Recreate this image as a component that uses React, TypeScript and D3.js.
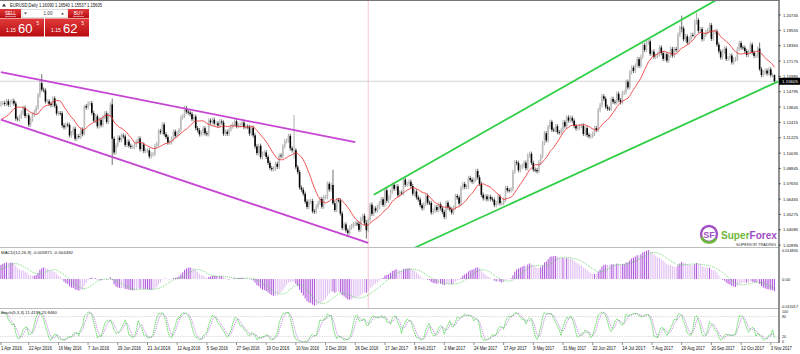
import * as d3 from "d3";
import React, { useEffect } from "react";

const FIRST_DAY = "2016-04-01";
const LAST_DAY = "2017-11-07";

// Feb 15 - Mar 31 2016, not drawn, only feeds the indicators
const warmupCloses = [
  1.1153, 1.1145, 1.1126, 1.1105, 1.1130, 1.1026, 1.1017, 1.1015, 1.1020, 1.0933, 1.0935,
  1.0872, 1.0866, 1.0954, 1.1003, 1.1012, 1.1008, 1.0999, 1.1177, 1.1152, 1.1107, 1.1107,
  1.1236, 1.1313, 1.1268, 1.1240, 1.1219, 1.1184, 1.1179, 1.1165, 1.1196, 1.1297, 1.1332, 1.1380,
];

// daily closes, one per weekday
const closes2016 = [
  // apr
  1.1390, 1.1393, 1.1385, 1.1406, 1.1378, 1.1398, 1.1409, 1.1388, 1.1271, 1.1266, 1.1285,
  1.1315, 1.1355, 1.1291, 1.1296, 1.1223, 1.1264, 1.1301, 1.1323, 1.1356, 1.1453,
  // may
  1.1546, 1.1496, 1.1490, 1.1404, 1.1405, 1.1385, 1.1376, 1.1428, 1.1370, 1.1311, 1.1313,
  1.1312, 1.1218, 1.1203, 1.1225, 1.1222, 1.1140, 1.1158, 1.1192, 1.1115, 1.1136, 1.1130,
  // jun
  1.1186, 1.1150, 1.1368, 1.1358, 1.1387, 1.1391, 1.1315, 1.1254, 1.1289, 1.1211, 1.1261,
  1.1220, 1.1282, 1.1312, 1.1245, 1.1296, 1.1381, 1.1115, 1.1008, 1.1065, 1.1123, 1.1105,
  // jul
  1.1140, 1.1132, 1.1067, 1.1093, 1.1060, 1.1052, 1.1052, 1.1064, 1.1092, 1.1117, 1.1034,
  1.1070, 1.1019, 1.1024, 1.1024, 1.0977, 1.0993, 1.0996, 1.1059, 1.1074, 1.1174,
  // aug
  1.1165, 1.1225, 1.1150, 1.1128, 1.1085, 1.1087, 1.1115, 1.1170, 1.1137, 1.1159, 1.1183,
  1.1280, 1.1290, 1.1353, 1.1325, 1.1317, 1.1306, 1.1266, 1.1286, 1.1197, 1.1181, 1.1149, 1.1159,
  // sep
  1.1196, 1.1157, 1.1150, 1.1256, 1.1241, 1.1262, 1.1233, 1.1235, 1.1218, 1.1249, 1.1241,
  1.1153, 1.1169, 1.1153, 1.1187, 1.1209, 1.1226, 1.1250, 1.1213, 1.1219, 1.1223, 1.1240,
  // oct
  1.1205, 1.1209, 1.1205, 1.1154, 1.1200, 1.1141, 1.1055, 1.1003, 1.1060, 1.0972, 1.0998,
  1.1009, 1.0974, 1.0928, 1.0888, 1.0879, 1.0883, 1.0920, 1.0897, 1.0985, 1.0979,
  // nov
  1.1056, 1.1096, 1.1100, 1.1137, 1.1040, 1.1025, 1.1026, 1.0894, 1.0856, 1.0736, 1.0720,
  1.0688, 1.0627, 1.0586, 1.0627, 1.0632, 1.0552, 1.0549, 1.0589, 1.0617, 1.0647, 1.0588,
  // dec
  1.0662, 1.0662, 1.0765, 1.0721, 1.0756, 1.0614, 1.0562, 1.0638, 1.0636, 1.0535, 1.0422,
  1.0450, 1.0404, 1.0384, 1.0427, 1.0437, 1.0452, 1.0457, 1.0455, 1.0408, 1.0493, 1.0517,
];

const closes2017 = [
  // jan
  1.0460, 1.0405, 1.0484, 1.0603, 1.0532, 1.0575, 1.0558, 1.0584, 1.0614, 1.0645, 1.0602,
  1.0715, 1.0634, 1.0660, 1.0704, 1.0757, 1.0726, 1.0745, 1.0677, 1.0697, 1.0693, 1.0798,
  // feb
  1.0758, 1.0763, 1.0781, 1.0748, 1.0688, 1.0706, 1.0660, 1.0643, 1.0600, 1.0575, 1.0608,
  1.0672, 1.0619, 1.0617, 1.0542, 1.0556, 1.0585, 1.0562, 1.0605, 1.0575,
  // mar
  1.0546, 1.0508, 1.0619, 1.0581, 1.0566, 1.0542, 1.0580, 1.0671, 1.0659, 1.0612, 1.0735,
  1.0764, 1.0740, 1.0741, 1.0810, 1.0796, 1.0782, 1.0798, 1.0865, 1.0815, 1.0765, 1.0680, 1.0652,
  // apr
  1.0668, 1.0645, 1.0664, 1.0647, 1.0641, 1.0600, 1.0615, 1.0666, 1.0615, 1.0615, 1.0643,
  1.0732, 1.0715, 1.0714, 1.0723, 1.0859, 1.0933, 1.0926, 1.0871, 1.0895,
  // may
  1.0905, 1.0929, 1.0886, 1.0984, 1.0998, 1.0928, 1.0875, 1.0872, 1.0862, 1.0932, 1.0980,
  1.1080, 1.1157, 1.1102, 1.1206, 1.1245, 1.1184, 1.1183, 1.1211, 1.1165, 1.1163, 1.1183, 1.1244,
  // jun
  1.1211, 1.1280, 1.1256, 1.1277, 1.1255, 1.1213, 1.1195, 1.1200, 1.1213, 1.1216, 1.1152,
  1.1197, 1.1144, 1.1133, 1.1136, 1.1153, 1.1197, 1.1183, 1.1337, 1.1375, 1.1444, 1.1425,
  // jul
  1.1362, 1.1348, 1.1347, 1.1424, 1.1401, 1.1397, 1.1464, 1.1414, 1.1398, 1.1470, 1.1475,
  1.1557, 1.1513, 1.1631, 1.1666, 1.1642, 1.1682, 1.1732, 1.1680, 1.1751, 1.1842,
  // aug
  1.1803, 1.1860, 1.1870, 1.1774, 1.1791, 1.1750, 1.1757, 1.1769, 1.1823, 1.1779, 1.1734,
  1.1770, 1.1721, 1.1761, 1.1812, 1.1760, 1.1810, 1.1802, 1.1923, 1.1977, 1.1971, 1.1886, 1.1909,
  // sep
  1.1860, 1.1888, 1.1920, 1.1918, 1.2023, 1.2036, 1.1952, 1.1966, 1.1887, 1.1921, 1.1942,
  1.1956, 1.1996, 1.1890, 1.1941, 1.1948, 1.1845, 1.1792, 1.1746, 1.1790, 1.1814,
  // oct
  1.1734, 1.1740, 1.1760, 1.1707, 1.1730, 1.1733, 1.1811, 1.1857, 1.1823, 1.1821, 1.1795,
  1.1765, 1.1786, 1.1845, 1.1784, 1.1757, 1.1760, 1.1815, 1.1654, 1.1609, 1.1628, 1.1643,
  // nov
  1.1621, 1.1653, 1.1608, 1.1609, 1.15605,
];

// bars with wicks far outside the body
const spikes = [
  { date: "2016-05-03", high: 1.1616, low: 1.1480 },
  { date: "2016-06-03", high: 1.1375, low: 1.1140 },
  { date: "2016-06-24", high: 1.1427, low: 1.0912 },
  { date: "2016-11-09", high: 1.1299, low: 1.0960 },
  { date: "2016-12-08", high: 1.0874, low: 1.0602 },
  { date: "2016-12-20", high: 1.0420, low: 1.0352 },
  { date: "2017-01-03", high: 1.0485, low: 1.0340 },
  { date: "2017-08-29", high: 1.2070, low: 1.1940 },
  { date: "2017-09-08", high: 1.2092, low: 1.2000 },
  { date: "2017-10-26", high: 1.1861, low: 1.1640 },
  { date: "2017-11-07", high: 1.1614, low: 1.15537 },
];
const WICK = 0.0017;

const priceTicks = [
  1.20745, 1.19555, 1.18365, 1.17175, 1.15985, 1.14795, 1.13605, 1.12415,
  1.11225, 1.10035, 1.08845, 1.07655, 1.06465, 1.05275, 1.04085, 1.02895,
];
const BID = 1.15605;

const dateTicks = [
  "2016-04-01", "2016-04-22", "2016-05-16", "2016-06-07", "2016-06-29", "2016-07-21",
  "2016-08-12", "2016-09-05", "2016-09-27", "2016-10-19", "2016-11-10", "2016-12-02",
  "2016-12-26", "2017-01-17", "2017-02-08", "2017-03-02", "2017-03-24", "2017-04-17",
  "2017-05-09", "2017-05-31", "2017-06-22", "2017-07-14", "2017-08-07", "2017-08-29",
  "2017-09-20", "2017-10-12", "2017-11-03",
];

// hand drawn trend lines: two anchors (date, price), ray = extend to the right
const trendLines = [
  { color: "#c545d4", from: ["2016-04-01", 1.1631], to: ["2016-12-26", 1.1088], ray: false },
  { color: "#c545d4", from: ["2016-04-01", 1.1263], to: ["2017-01-04", 1.0307], ray: false },
  { color: "#2fcf45", from: ["2017-01-09", 1.0680], to: ["2017-09-22", 1.2186], ray: true },
  { color: "#2fcf45", from: ["2017-02-08", 1.0269], to: ["2017-11-07", 1.1546], ray: true },
];
const VLINE_DAY = "2017-01-04";

const MA_PERIOD = 13;
const macdTicks = [
  { v: 0.014855, label: "0.014855" },
  { v: 0, label: "0.00" },
  { v: -0.013417, label: "-0.013417" },
];
const stochLevels = [80, 20];
const stochTicks = [100, 80, 20, 0];

const W = 800;
const PLOT_R = 778.5;
const FONT = "'Liberation Sans', Arial, sans-serif";

function ema(arr: number[], n: number) {
  const k = 2 / (n + 1);
  let e = arr[0];
  return arr.map((v, i) => (i === 0 ? e : (e = v * k + e * (1 - k))));
}

// squeeze tiny terminal text into the width it has in the screenshot
function Tiny({ x, y, w, size = 4.4, fill = "#111", children, anchor }: any) {
  return (
    <text x={x} y={y} fontSize={size} fill={fill} textLength={w} lengthAdjust="spacingAndGlyphs"
      textAnchor={anchor}>
      {children}
    </text>
  );
}

export default function App() {
  useEffect(() => {
    document.body.style.margin = "0";
  }, []);

  const parse = d3.utcParse("%Y-%m-%d");
  const key = d3.utcFormat("%Y-%m-%d");
  const label = d3.utcFormat("%-d %b %Y");
  const days = d3.utcDay
    .range(parse(FIRST_DAY)!, d3.utcDay.offset(parse(LAST_DAY)!, 1))
    .filter(d => d.getUTCDay() % 6 !== 0);
  const keys = days.map(d => key(d));
  const idx = new Map(keys.map((k, i) => [k, i]));

  const closes = closes2016.concat(closes2017);
  const all = warmupCloses.concat(closes);
  const off = warmupCloses.length;
  const spikeMap = new Map(spikes.map(s => [s.date, s]));

  const allBars = all.map((c, j) => {
    const o = j === 0 ? c : all[j - 1];
    const s = j >= off ? spikeMap.get(keys[j - off]) : undefined;
    return {
      o, c,
      h: s ? s.high : Math.max(o, c) + WICK,
      l: s ? s.low : Math.min(o, c) - WICK,
    };
  });
  const bars = allBars.slice(off).map((b, i) => ({ ...b, i }));

  // moving average
  const ma = all.map((_, j) => (j < MA_PERIOD - 1 ? NaN : d3.mean(all.slice(j - MA_PERIOD + 1, j + 1))!)).slice(off);

  // MACD(12,26,9)
  const e12 = ema(all, 12);
  const e26 = ema(all, 26);
  const macdAll = all.map((_, j) => e12[j] - e26[j]);
  const sigAll = macdAll.map((_, j) => d3.mean(macdAll.slice(Math.max(0, j - 8), j + 1))!);
  const macd = macdAll.slice(off);
  const macdPrev = macdAll.slice(off - 1);
  const signal = sigAll.slice(off);

  // Stochastic(5,3,3)
  const hh = allBars.map((_, j) => d3.max(allBars.slice(Math.max(0, j - 4), j + 1), b => b.h)!);
  const ll = allBars.map((_, j) => d3.min(allBars.slice(Math.max(0, j - 4), j + 1), b => b.l)!);
  const kAll = allBars.map((_, j) => {
    let num = 0, den = 0;
    for (let q = Math.max(0, j - 2); q <= j; q++) {
      num += allBars[q].c - ll[q];
      den += hh[q] - ll[q];
    }
    return den ? (100 * num) / den : 50;
  });
  const dAll = kAll.map((_, j) => d3.mean(kAll.slice(Math.max(0, j - 2), j + 1))!);
  const stK = kAll.slice(off);
  const stD = dAll.slice(off);

  const n = bars.length;
  const x = d3.scaleLinear().domain([-0.5, n - 0.5]).range([0, 775.4]);
  const y = d3.scaleLinear().domain([1.0275, 1.2191]).range([247, 0]);
  const ym = d3.scaleLinear().domain([-0.0134, 0.01486]).range([307, 248]);
  const ys = d3.scaleLinear().domain([0, 100]).range([343, 310]);

  const maLine = d3.line<number>().defined(v => !isNaN(v)).x((_, i) => x(i)).y(v => y(v));
  const sigLine = d3.line<number>().x((_, i) => x(i)).y(v => ym(v));
  const stLine = d3.line<number>().x((_, i) => x(i)).y(v => ys(v));

  const tl = trendLines.map(t => {
    const i0 = idx.get(t.from[0] as string)!;
    const i1 = idx.get(t.to[0] as string)!;
    const p0 = t.from[1] as number;
    const p1 = t.to[1] as number;
    let x1 = x(i1), y1 = y(p1);
    if (t.ray) {
      const slope = (y1 - y(p0)) / (x1 - x(i0));
      y1 = y1 + slope * (PLOT_R - x1);
      x1 = PLOT_R;
    }
    return { color: t.color, x0: x(i0), y0: y(p0), x1, y1 };
  });

  const vx = x(idx.get(VLINE_DAY)!);

  return (
    <svg width={W} height={354} style={{ position: "fixed", left: 0, top: 0, background: "#fff" }}
      fontFamily={FONT}>
      <defs>
        <clipPath id="main"><rect x={0} y={1} width={PLOT_R} height={246} /></clipPath>
        <clipPath id="macd"><rect x={0} y={248} width={PLOT_R} height={60} /></clipPath>
        <clipPath id="stoch"><rect x={0} y={309} width={PLOT_R} height={33} /></clipPath>
        <linearGradient id="btn" x1="0" y1="0" x2="0" y2="1">
          <stop offset="0" stopColor="#e23a3a" />
          <stop offset="1" stopColor="#b80d12" />
        </linearGradient>
      </defs>

      {/* frame */}
      <line x1={0} x2={PLOT_R} y1={0.5} y2={0.5} stroke="#777" />
      <line x1={0} x2={PLOT_R} y1={247.5} y2={247.5} stroke="#bdbdbd" />
      <line x1={0} x2={PLOT_R} y1={308.5} y2={308.5} stroke="#bdbdbd" />
      <line x1={0} x2={PLOT_R} y1={342.5} y2={342.5} stroke="#bdbdbd" />
      <line x1={PLOT_R + 0.5} x2={PLOT_R + 0.5} y1={0} y2={343} stroke="#222" />

      {/* vertical marker */}
      <line x1={vx} x2={vx} y1={1} y2={308} stroke="#f2b8bd" strokeWidth={0.8} />

      {/* main pane */}
      <g clipPath="url(#main)">
        <line x1={0} x2={PLOT_R} y1={y(BID)} y2={y(BID)} stroke="#c8c8c8" strokeWidth={0.8} />
        {bars.map(b => {
          const up = b.c >= b.o;
          const top = y(Math.max(b.o, b.c));
          const bot = y(Math.min(b.o, b.c));
          return (
            <g key={b.i}>
              <line x1={x(b.i)} x2={x(b.i)} y1={y(b.h)} y2={y(b.l)} stroke={up ? "#8c8c8c" : "#333"} strokeWidth={0.7} />
              <rect x={x(b.i) - 0.8} y={top} width={1.6} height={Math.max(0.8, bot - top)}
                fill={up ? "#bdbdbd" : "#000"} />
            </g>
          );
        })}
        <path d={maLine(ma) ?? ""} fill="none" stroke="#f02a2a" strokeWidth={0.8} />
        {tl.map((t, i) => (
          <line key={i} x1={t.x0} y1={t.y0} x2={t.x1} y2={t.y1} stroke={t.color} strokeWidth={1.8} />
        ))}
      </g>

      {/* header + one click panel */}
      <path d="M2,6.5 L4,3.5 L6,6.5 Z" fill="#333" />
      <Tiny x={10} y={6.8} w={92} size={4.6}>EURUSD,Daily  1.16090 1.16540 1.15537 1.15605</Tiny>
      <rect x={0} y={9} width={21} height={9} fill="url(#btn)" />
      <text x={10.5} y={15.3} fontSize={4.6} fill="#fff" textAnchor="middle">SELL</text>
      <line x1={5} x2={16} y1={16.5} y2={16.5} stroke="#fff" strokeWidth={0.5} />
      <rect x={22} y={9.5} width={45} height={8} fill="#fff" stroke="#c8c8c8" strokeWidth={0.6} />
      <path d="M24,12.5 L27,12.5 L25.5,14.5 Z" fill="#444" />
      <path d="M61,14.5 L64,14.5 L62.5,12.5 Z" fill="#444" />
      <text x={48} y={15.3} fontSize={4.6} fill="#333" textAnchor="middle">1.00</text>
      <rect x={68} y={9} width={21} height={9} fill="url(#btn)" />
      <text x={78.5} y={15.3} fontSize={4.6} fill="#fff" textAnchor="middle">BUY</text>
      <line x1={73} x2={84} y1={16.5} y2={16.5} stroke="#fff" strokeWidth={0.5} />
      {[{ x0: 0, big: "60" }, { x0: 45, big: "62" }].map(q => (
        <g key={q.x0}>
          <rect x={q.x0} y={18.5} width={44} height={18} fill="url(#btn)" />
          <text x={q.x0 + 6} y={32} fontSize={5} fill="#fff">1.15</text>
          <text x={q.x0 + 18} y={33} fontSize={13} fill="#fff">{q.big}</text>
          <text x={q.x0 + 36.5} y={25} fontSize={4.5} fill="#fff">5</text>
        </g>
      ))}

      {/* logo */}
      <g>
        <circle cx={709} cy={234} r={8} fill="none" stroke="#a14fc4" strokeWidth={2.4} />
        <path d="M701.5,237 A8,8 0 0 0 716,238.5" fill="none" stroke="#6fb83a" strokeWidth={2.6} />
        <text x={709} y={237.5} fontSize={9} fontWeight="bold" fill="#a14fc4" textAnchor="middle">SF</text>
        <text x={721} y={238.5} fontSize={11} fontWeight="bold" textLength={56} lengthAdjust="spacingAndGlyphs">
          <tspan fill="#6fb83a">Super</tspan><tspan fill="#a14fc4">Forex</tspan>
        </text>
        <Tiny x={736} y={245.5} w={40} size={3.1} fill="#333">SUPERIOR TRADING</Tiny>
      </g>

      {/* price axis */}
      {priceTicks.map(p => (
        <g key={p}>
          <line x1={PLOT_R} x2={PLOT_R + 2.5} y1={y(p)} y2={y(p)} stroke="#222" strokeWidth={0.6} />
          <Tiny x={783} y={y(p) + 1.6} w={15}>{p.toFixed(5)}</Tiny>
        </g>
      ))}
      <rect x={779} y={y(BID) - 3.5} width={21} height={7} fill="#000" />
      <Tiny x={782} y={y(BID) + 1.7} w={16} fill="#fff">{BID.toFixed(5)}</Tiny>

      {/* MACD pane */}
      <g clipPath="url(#macd)">
        {macd.map((v, i) => {
          const away = v >= 0 ? v >= macdPrev[i] : v <= macdPrev[i];
          return (
            <line key={i} x1={x(i)} x2={x(i)} y1={ym(0)} y2={ym(v)}
              stroke={away ? "#a43fd6" : "#ddb6f2"} strokeWidth={0.9} />
          );
        })}
        <path d={sigLine(signal) ?? ""} fill="none" stroke="#58d05a" strokeWidth={0.8} strokeDasharray="1 1" />
      </g>
      <Tiny x={1} y={253.5} w={72} size={4.4} fill="#222">MACD(12,26,9) -0.005971 -0.004482</Tiny>
      <Tiny x={782} y={251.5} w={16} size={4.2}>{macdTicks[0].label}</Tiny>
      <Tiny x={782} y={ym(0) + 1.5} w={8} size={4.2}>{macdTicks[1].label}</Tiny>
      <Tiny x={781} y={ym(macdTicks[2].v) + 0.5} w={17} size={4.2}>{macdTicks[2].label}</Tiny>

      {/* Stochastic pane */}
      <g clipPath="url(#stoch)">
        {stochLevels.map(l => (
          <line key={l} x1={0} x2={PLOT_R} y1={ys(l)} y2={ys(l)} stroke="#b8b8b8" strokeWidth={0.6} strokeDasharray="1.2 1.2" />
        ))}
        <path d={stLine(stD) ?? ""} fill="none" stroke="#b35ce0" strokeWidth={0.8} strokeDasharray="1 1" />
        <path d={stLine(stK) ?? ""} fill="none" stroke="#3fd63f" strokeWidth={0.8} strokeDasharray="1.5 0.6" />
      </g>
      <Tiny x={1} y={313.5} w={56} size={4.4} fill="#222">Stoch(5,3,3) 11.4193 25.8460</Tiny>
      {stochTicks.map(t => (
        <Tiny key={t} x={782} y={ys(t) + (t === 100 ? 3 : t === 0 ? -0.5 : 1.5)} w={t === 100 ? 6 : t === 0 ? 2 : 4} size={4}>{t}</Tiny>
      ))}

      {/* time axis */}
      {dateTicks.map(d => {
        const xi = x(idx.get(d)!);
        const text = label(parse(d)!);
        return (
          <g key={d}>
            <line x1={xi} x2={xi} y1={342.5} y2={345} stroke="#222" strokeWidth={0.5} />
            <Tiny x={Math.max(0.5, xi)} y={350} w={text.length * 2.1} size={4.6}>{text}</Tiny>
          </g>
        );
      })}
    </svg>
  );
}
